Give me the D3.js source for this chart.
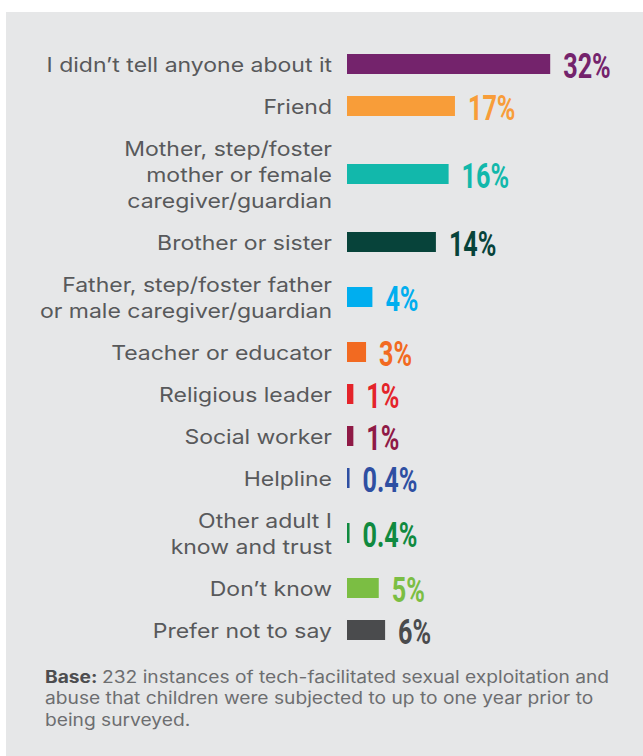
<!DOCTYPE html>
<html>
<head>
<meta charset="utf-8">
<script src="https://cdn.jsdelivr.net/npm/d3@7"></script>
<style>
  html, body { margin: 0; padding: 0; background: #ffffff; }
  svg { display: block; }
</style>
</head>
<body>
<svg id="chart" width="643" height="756"></svg>
<script>
// Who the child told about the incident (share of instances)
const categories = [
  ["I didn’t tell anyone about it"],
  ["Friend"],
  ["Mother, step/foster", "mother or female", "caregiver/guardian"],
  ["Brother or sister"],
  ["Father, step/foster father", "or male caregiver/guardian"],
  ["Teacher or educator"],
  ["Religious leader"],
  ["Social worker"],
  ["Helpline"],
  ["Other adult I", "know and trust"],
  ["Don’t know"],
  ["Prefer not to say"]
];
const values = [32, 17, 16, 14, 4, 3, 1, 1, 0.4, 0.4, 5, 6];
const valueLabels = ["32%", "17%", "16%", "14%", "4%", "3%", "1%", "1%", "0.4%", "0.4%", "5%", "6%"];
const barColors = [
  "#74236c", "#f89d39", "#12b8ab", "#07433a", "#00aeef", "#f26a21",
  "#e4242a", "#8f1a46", "#2e4fa2", "#108a3f", "#7bbe43", "#4a4b4d"
];
const baseNote = ["232 instances of tech-facilitated sexual exploitation and",
                  "abuse that children were subjected to up to one year prior to",
                  "being surveyed."];

const W = 643, H = 756;
const svg = d3.select("#chart");

// panel background
svg.append("rect")
  .attr("x", 6).attr("y", 12)
  .attr("width", W - 6).attr("height", H - 12)
  .attr("fill", "#e6e7e8");

// Row slots grow with the number of label lines
const LINE = 26, ROW_PAD = 16;
const rows = categories.map((lines, i) => ({
  lines, value: values[i], label: valueLabels[i], color: barColors[i]
}));
let acc = 0;
rows.forEach(r => {
  const size = ROW_PAD + LINE * r.lines.length;
  r.start = acc;
  r.mid = acc + size / 2;
  acc += size;
});
const y = d3.scaleLinear().domain([0, acc]).range([43, 43 + acc]);
const x = d3.scaleLinear().domain([0, 32]).range([347, 550.2]);

const BAR_H = 20;
const g = svg.append("g");

// bars
g.selectAll("rect.bar")
  .data(rows)
  .join("rect")
  .attr("class", "bar")
  .attr("x", x(0))
  .attr("y", d => y(d.mid) - BAR_H / 2)
  .attr("width", d => x(d.value) - x(0))
  .attr("height", BAR_H)
  .attr("fill", d => d.color);

// category labels (right aligned, multi-line, wide geometric look)
const cat = g.selectAll("text.cat")
  .data(rows)
  .join("text")
  .attr("class", "cat")
  .attr("transform", "translate(332,0) scale(1.15,1)")
  .attr("text-anchor", "end")
  .attr("font-family", "Inter, 'Noto Sans', sans-serif")
  .attr("font-size", 20)
  .attr("fill", "#58595b");
cat.each(function(d) {
  const n = d.lines.length;
  d3.select(this).selectAll("tspan")
    .data(d.lines)
    .join("tspan")
    .attr("x", 0)
    .attr("y", (t, k) => y(d.mid) + (k - (n - 1) / 2) * LINE + 8.5)
    .text(t => t);
});

// value labels in a condensed bold face
g.selectAll("text.val")
  .data(rows)
  .join("text")
  .attr("class", "val")
  .attr("transform", d => `translate(${x(d.value) + 13},${y(d.mid) + 14}) scale(0.72,1)`)
  .attr("font-family", "Roboto, 'Liberation Sans', sans-serif")
  .attr("font-weight", 700)
  .attr("font-size", 35)
  .attr("fill", d => d.color)
  .text(d => d.label);

// base note
const note = svg.append("text")
  .attr("transform", "translate(45,0) scale(1.13,1)")
  .attr("font-family", "Inter, 'Noto Sans', sans-serif")
  .attr("font-size", 17)
  .attr("fill", "#6d6e70");
baseNote.forEach((line, i) => {
  const t = note.append("tspan").attr("x", 0).attr("y", 683 + i * 21.5);
  if (i === 0) {
    t.append("tspan").attr("font-weight", 700).attr("fill", "#4d4d4f").text("Base: ");
    t.append("tspan").text(line);
  } else {
    t.text(line);
  }
});
</script>
</body>
</html>
